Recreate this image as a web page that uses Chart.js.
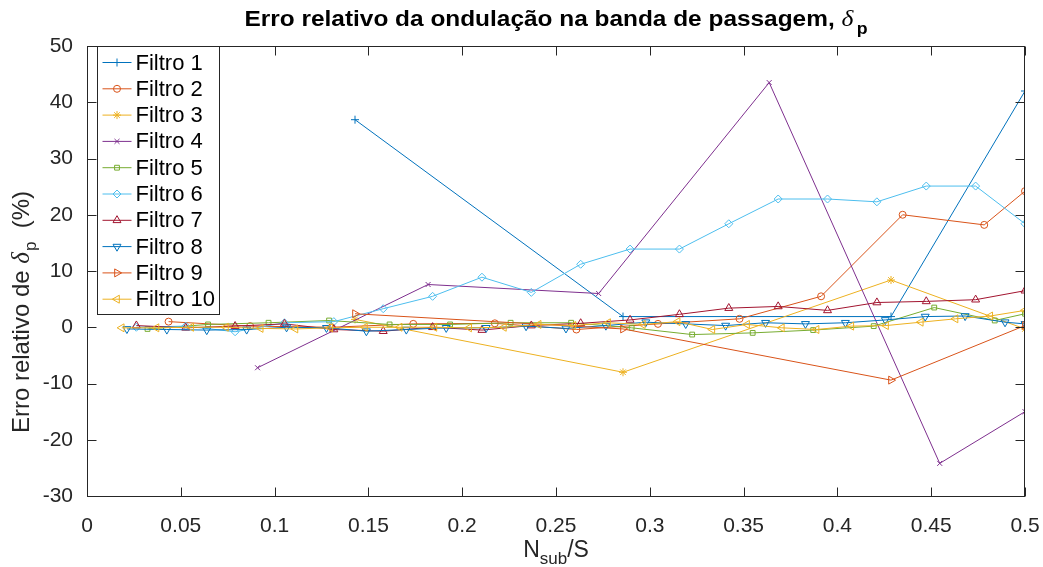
<!DOCTYPE html>
<html>
<head>
<meta charset="utf-8">
<script src="https://cdn.jsdelivr.net/npm/chart.js@4.4.1/dist/chart.umd.min.js"></script>
<style>
  html, body { margin: 0; padding: 0; background: #ffffff; }
  #c { display: block; }
</style>
</head>
<body>
<canvas id="c" width="1043" height="567"></canvas>
<script>
// Tick positions
const xTickValues = [0, 0.05, 0.1, 0.15, 0.2, 0.25, 0.3, 0.35, 0.4, 0.45, 0.5];
const xTickLabels = ['0', '0.05', '0.1', '0.15', '0.2', '0.25', '0.3', '0.35', '0.4', '0.45', '0.5'];
const yTickValues = [-30, -20, -10, 0, 10, 20, 30, 40, 50];
const yTickLabels = ['-30', '-20', '-10', '0', '10', '20', '30', '40', '50'];

// Filter names and number of subbands S for each filter
const filterNames = ['Filtro 1', 'Filtro 2', 'Filtro 3', 'Filtro 4', 'Filtro 5',
                     'Filtro 6', 'Filtro 7', 'Filtro 8', 'Filtro 9', 'Filtro 10'];
const subbandCount = [7, 23, 7, 11, 31, 38, 38, 47, 7, 54];

// Relative error of the passband ripple (%), one value per Nsub = 1, 2, ... and Nsub = S/2
const erroFiltro1 = [36.9, 1.9, 1.9, 42.0];
const erroFiltro2 = [1.0, 0.2, 0.0, 0.6, 0.7, -0.4, 0.6, 1.5, 5.5, 20.0, 18.2, 24.2];
const erroFiltro3 = [1.4, -8.0, 8.4, -0.3];
const erroFiltro4 = [-7.2, 7.6, 6.0, 43.5, -24.2, -15.0];
const erroFiltro5 = [-0.3, 0.5, 0.8, 1.2, 0.5, 0.5, 0.8, 0.8, -0.1, -1.3, -1.0, -0.5, 0.2, 3.5, 1.2, 2.4];
const erroFiltro6 = [0.0, 0.2, -0.8, 0.8, 1.0, 3.3, 5.5, 8.9, 6.2, 11.2, 13.9, 13.9, 18.4, 22.8, 22.8, 22.3, 25.1, 25.1, 18.4];
const erroFiltro7 = [0.3, -0.1, 0.2, 0.6, -0.4, -0.7, 0.0, -0.5, 0.3, 0.7, 1.3, 2.3, 3.4, 3.7, 3.0, 4.4, 4.6, 4.9, 6.5];
const erroFiltro8 = [-0.3, -0.4, -0.5, -0.4, 0.0, -0.1, -0.7, -0.4, -0.1, -0.1, 0.2, -0.2, 0.3, 0.9,
                     0.6, 0.3, 0.8, 0.6, 0.8, 1.3, 1.9, 2.0, 0.9, 0.6];
const erroFiltro9 = [2.4, -0.3, -9.4, 0.3];
const erroFiltro10 = [-0.1, -0.1, 0.0, 0.0, -0.2, -0.3, -0.1, 0.0, 0.0, 0.0, -0.1, 0.0, 0.5, 0.3, 0.8, 0.5,
                      1.0, -0.4, 0.5, -0.1, -0.4, 0.2, 0.3, 0.9, 1.5, 2.0, 3.0];

const seriesValues = [erroFiltro1, erroFiltro2, erroFiltro3, erroFiltro4, erroFiltro5,
                      erroFiltro6, erroFiltro7, erroFiltro8, erroFiltro9, erroFiltro10];

// MATLAB default line colour order
const lineColors = ['#0072BD', '#D95319', '#EDB120', '#7E2F8E', '#77AC30',
                    '#4DBEEE', '#A2142F', '#0072BD', '#D95319', '#EDB120'];
const markerStyles = ['cross', 'circle', 'star', 'crossRot', 'rect', 'rectRot', 'triangle', 'triangle', 'triangle', 'triangle'];
const markerRotation = [0, 0, 0, 0, 0, 0, 0, 180, 90, 270];
const markerRadius = [4, 3.5, 4, 3.5, 3.4, 4, 4.6, 4.6, 4.6, 4.6];

const FONT = "'Liberation Sans', Arial, Helvetica, sans-serif";
const SERIF_ITALIC = "'Liberation Serif', 'DejaVu Serif', serif";
const AXIS_COLOR = '#262626';

// x = Nsub / S for Nsub = 1 .. n-1, last point at Nsub = S/2
function toPoints(values, S) {
  return values.map((v, i) => ({ x: i === values.length - 1 ? 0.5 : (i + 1) / S, y: v }));
}

const datasets = seriesValues.map((vals, i) => ({
  label: filterNames[i],
  data: toPoints(vals, subbandCount[i]),
  showLine: true,
  borderColor: lineColors[i],
  backgroundColor: 'rgba(0,0,0,0)',
  borderWidth: 1,
  pointStyle: markerStyles[i],
  pointRotation: markerRotation[i],
  pointRadius: markerRadius[i],
  pointBorderWidth: 1,
  pointBorderColor: lineColors[i],
  pointBackgroundColor: 'rgba(0,0,0,0)',
  pointHoverRadius: markerRadius[i],
  order: seriesValues.length - i
}));

// Axes box with inward tick marks on all four sides
const axesBox = {
  id: 'axesBox',
  afterDatasetsDraw(chart) {
    const { ctx, chartArea: a, scales } = chart;
    const L = Math.round(a.left) + 0.5, R = Math.round(a.right) - 0.5;
    const T = Math.round(a.top) + 0.5, B = Math.round(a.bottom) + 0.5;
    const len = 9;
    ctx.save();
    ctx.strokeStyle = AXIS_COLOR;
    ctx.lineWidth = 1;
    ctx.beginPath();
    xTickValues.forEach(v => {
      const px = Math.round(scales.x.getPixelForValue(v)) + 0.5;
      ctx.moveTo(px, B); ctx.lineTo(px, B - len);
      ctx.moveTo(px, T); ctx.lineTo(px, T + len);
    });
    yTickValues.forEach(v => {
      const py = Math.round(scales.y.getPixelForValue(v)) + 0.5;
      ctx.moveTo(L, py); ctx.lineTo(L + len, py);
      ctx.moveTo(R, py); ctx.lineTo(R - len, py);
    });
    ctx.stroke();
    ctx.strokeRect(L, T, R - L, B - T);
    ctx.restore();
  }
};

// Title, axis labels with sub-scripts, and the boxed legend
const annotations = {
  id: 'annotations',
  afterDraw(chart) {
    const { ctx, chartArea: a } = chart;
    const cx = (a.left + a.right) / 2;
    ctx.save();
    ctx.fillStyle = '#000000';
    ctx.textBaseline = 'alphabetic';
    ctx.textAlign = 'left';

    // Title (slightly widened, MATLAB-like glyph spacing)
    const tMain = 'Erro relativo da ondulação na banda de passagem, ';
    const fMain = 'bold 22px ' + FONT;
    const fDelta = 'italic 23px ' + SERIF_ITALIC;
    const fSub = 'bold 16px ' + FONT;
    ctx.font = fMain; const w1 = ctx.measureText(tMain).width;
    ctx.font = fDelta; const w2 = ctx.measureText('δ').width;
    ctx.font = fSub; const w3 = ctx.measureText('p').width;
    const natural = w1 + w2 + 3 + w3;
    const sx = 623 / natural;
    ctx.save();
    ctx.translate(cx - 623 / 2, 26);
    ctx.scale(sx, 1);
    ctx.font = fMain; ctx.fillText(tMain, 0, 0);
    ctx.font = fDelta; ctx.fillText('δ', w1, 0);
    ctx.font = fSub; ctx.fillText('p', w1 + w2 + 3, 8);
    ctx.restore();

    // x-axis label
    ctx.fillStyle = AXIS_COLOR;
    const fLab = '23px ' + FONT;
    const fLabSub = '17px ' + FONT;
    ctx.font = fLab; const n1 = ctx.measureText('N').width, n3 = ctx.measureText('/S').width;
    ctx.font = fLabSub; const n2 = ctx.measureText('sub').width;
    let x0 = cx - (n1 + n2 + n3) / 2;
    const xy = 557;
    ctx.font = fLab; ctx.fillText('N', x0, xy);
    ctx.font = fLabSub; ctx.fillText('sub', x0 + n1, xy + 7);
    ctx.font = fLab; ctx.fillText('/S', x0 + n1 + n2, xy);

    // y-axis label (rotated)
    const fYLab = '24px ' + FONT;
    const fYSub = '17px ' + FONT;
    const yA = 'Erro relativo de ', yC = '  (%)';
    const fYDelta = 'italic 25px ' + SERIF_ITALIC;
    ctx.font = fYLab; const m1 = ctx.measureText(yA).width, m4 = ctx.measureText(yC).width;
    ctx.font = fYDelta; const m2 = ctx.measureText('δ').width;
    ctx.font = fYSub; const m3 = ctx.measureText('p').width;
    const total = m1 + m2 + 1 + m3 + m4;
    ctx.translate(29, 312);
    ctx.rotate(-Math.PI / 2);
    let s = -total / 2;
    ctx.font = fYLab; ctx.fillText(yA, s, 0); s += m1;
    ctx.font = fYDelta; ctx.fillText('δ', s, 0); s += m2 + 1;
    ctx.font = fYSub; ctx.fillText('p', s, 7); s += m3;
    ctx.font = fYLab; ctx.fillText(yC, s, 0);
    ctx.restore();

    // Legend
    ctx.save();
    const bx = Math.round(a.left) + 10.5, by = Math.round(a.top) + 0.5;
    const bw = 122, bh = 268, rowH = 26.3, firstRow = 16;
    ctx.fillStyle = '#ffffff';
    ctx.fillRect(bx, by, bw, bh);
    ctx.strokeStyle = AXIS_COLOR;
    ctx.lineWidth = 1;
    ctx.strokeRect(bx, by, bw, bh);
    chart.data.datasets.forEach((ds, i) => {
      const ry = by + firstRow + i * rowH;
      ctx.strokeStyle = ds.borderColor;
      ctx.lineWidth = 1;
      ctx.beginPath();
      ctx.moveTo(bx + 5, ry); ctx.lineTo(bx + 34, ry);
      ctx.stroke();
      ctx.fillStyle = 'rgba(0,0,0,0)';
      Chart.helpers.drawPoint(ctx, {
        pointStyle: ds.pointStyle, rotation: ds.pointRotation,
        radius: ds.pointRadius, borderWidth: 1
      }, bx + 19.5, ry);
      ctx.fillStyle = '#000000';
      ctx.font = '22px ' + FONT;
      ctx.textBaseline = 'middle';
      ctx.fillText(ds.label, bx + 38, ry + 1);
    });
    ctx.restore();
  }
};

new Chart(document.getElementById('c'), {
  type: 'scatter',
  data: { datasets },
  options: {
    responsive: false,
    devicePixelRatio: 1,
    animation: false,
    layout: { padding: { top: 46, right: 18, left: 0, bottom: 0 } },
    plugins: { legend: { display: false }, tooltip: { enabled: false }, title: { display: false } },
    scales: {
      x: {
        type: 'linear', min: 0, max: 0.5,
        afterBuildTicks: s => { s.ticks = xTickValues.map(v => ({ value: v })); },
        afterFit: s => { s.height = 71; s.paddingLeft = 0; s.paddingRight = 0; },
        grid: { display: false }, border: { display: false },
        ticks: {
          autoSkip: false, maxRotation: 0, padding: 10, color: AXIS_COLOR,
          font: { family: FONT, size: 21 },
          callback: v => xTickLabels[xTickValues.findIndex(t => Math.abs(t - v) < 1e-9)]
        }
      },
      y: {
        type: 'linear', min: -30, max: 50,
        afterBuildTicks: s => { s.ticks = yTickValues.map(v => ({ value: v })); },
        afterFit: s => { s.width = 87; s.paddingTop = 0; s.paddingBottom = 0; },
        grid: { display: false }, border: { display: false },
        ticks: {
          autoSkip: false, padding: 6, color: AXIS_COLOR,
          font: { family: FONT, size: 21 },
          callback: v => yTickLabels[yTickValues.findIndex(t => Math.abs(t - v) < 1e-9)]
        }
      }
    }
  },
  plugins: [axesBox, annotations]
});
</script>
</body>
</html>
